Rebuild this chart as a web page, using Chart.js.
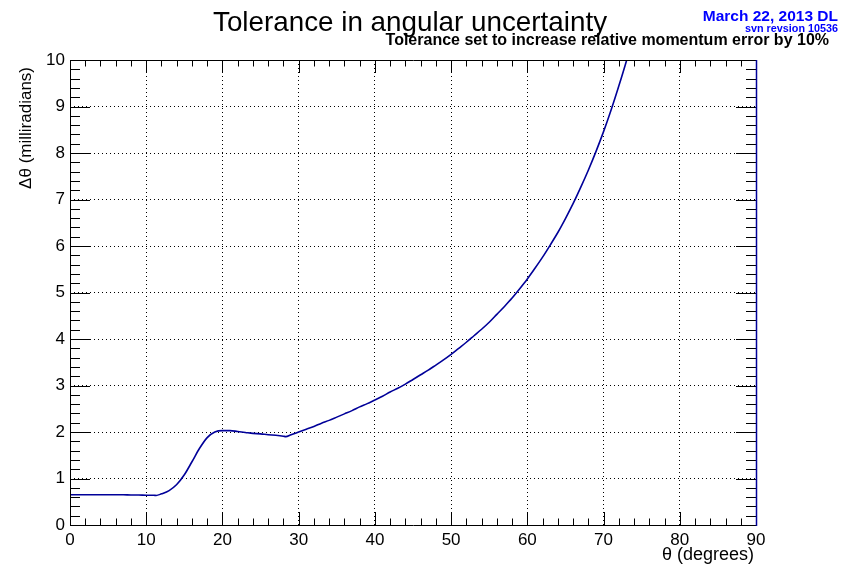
<!DOCTYPE html>
<html>
<head>
<meta charset="utf-8">
<script src="https://cdn.jsdelivr.net/npm/chart.js@4.4.4/dist/chart.umd.min.js"></script>
<style>
  html, body { margin: 0; padding: 0; background: #fff; }
  #wrap { width: 844px; height: 570px; }
</style>
</head>
<body>
<div id="wrap"><canvas id="chart" width="844" height="570"></canvas></div>
<script>
// theta (degrees) and tolerance in angular uncertainty (milliradians)
const thetaDeg = [
  0, 1, 2, 3, 4, 5, 6, 7, 8, 9, 10, 11, 11.3,
  12, 13, 14, 15, 16, 17, 18, 19, 20, 21, 22, 23, 24, 25, 26, 27, 28, 28.3,
  29, 30, 31, 32, 33, 34, 35, 36, 37, 38, 39, 40, 41, 42, 43, 44, 45, 46, 47, 48, 49,
  50, 51, 52, 53, 54, 55, 56, 57, 58, 59, 60, 61, 62, 63, 64, 65, 66, 67, 68, 69,
  70, 71, 72, 73, 74
];
const dTheta = [
  0.65, 0.65, 0.65, 0.65, 0.65, 0.65, 0.65, 0.65, 0.645, 0.645, 0.64, 0.64, 0.635,
  0.67, 0.74, 0.87, 1.08, 1.36, 1.65, 1.88, 2.0, 2.03, 2.03, 2.01, 1.99, 1.97, 1.96, 1.94, 1.93, 1.91, 1.9,
  1.94, 2.0, 2.06, 2.12, 2.19, 2.25, 2.32, 2.39, 2.46, 2.54, 2.61, 2.69, 2.77, 2.86, 2.94, 3.03, 3.13, 3.23, 3.33, 3.44, 3.55,
  3.67, 3.8, 3.93, 4.07, 4.21, 4.36, 4.53, 4.7, 4.88, 5.08, 5.29, 5.52, 5.76, 6.02, 6.29, 6.59, 6.91, 7.26, 7.63, 8.03,
  8.46, 8.93, 9.44, 9.98, 10.57
];
const xTicks = [0, 10, 20, 30, 40, 50, 60, 70, 80, 90];
const yTicks = [0, 1, 2, 3, 4, 5, 6, 7, 8, 9, 10];

const FONT = "'Liberation Sans', Arial, Helvetica, sans-serif";

// ROOT-like frame: inward ticks on all four sides, blue right edge, texts
const rootFrame = {
  id: "rootFrame",
  afterDraw(chart) {
    const { ctx, chartArea: a, scales: { x, y } } = chart;
    ctx.save();
    ctx.lineWidth = 1;
    ctx.strokeStyle = "#000";
    ctx.beginPath();
    for (let i = 0; i <= 45; i++) {
      const v = i * 2;
      const px = Math.round(x.getPixelForValue(v)) + 0.5;
      const len = v % 10 === 0 ? 13 : 6.5;
      ctx.moveTo(px, a.bottom);
      ctx.lineTo(px, a.bottom - len);
      ctx.moveTo(px, a.top);
      ctx.lineTo(px, a.top + len);
    }
    for (let i = 0; i <= 50; i++) {
      const py = Math.round(y.getPixelForValue(i / 5)) + 0.5;
      const len = i % 5 === 0 ? 20 : 10;
      ctx.moveTo(a.left, py);
      ctx.lineTo(a.left + len, py);
      ctx.moveTo(a.right, py);
      ctx.lineTo(a.right - len, py);
    }
    ctx.stroke();

    // frame
    ctx.beginPath();
    ctx.moveTo(a.right + 0.5, a.top + 0.5);
    ctx.lineTo(a.left + 0.5, a.top + 0.5);
    ctx.lineTo(a.left + 0.5, a.bottom + 0.5);
    ctx.lineTo(a.right + 0.5, a.bottom + 0.5);
    ctx.stroke();
    ctx.strokeStyle = "#000099";
    ctx.lineWidth = 1.5;
    ctx.beginPath();
    ctx.moveTo(a.right + 0.5, a.top);
    ctx.lineTo(a.right + 0.5, a.bottom + 1);
    ctx.stroke();

    // texts
    ctx.fillStyle = "#000";
    ctx.textBaseline = "alphabetic";
    ctx.textAlign = "left";
    ctx.font = "27.8px " + FONT;
    ctx.fillText("Tolerance in angular uncertainty", 213, 31);
    ctx.textAlign = "right";
    ctx.font = "bold 16px " + FONT;
    ctx.fillText("Tolerance set to increase relative momentum error by 10%", 829, 45);
    ctx.fillStyle = "#0000ff";
    ctx.font = "bold 15.5px " + FONT;
    ctx.fillText("March 22, 2013 DL", 838, 21);
    ctx.font = "bold 10.8px " + FONT;
    ctx.fillText("svn revsion 10536", 838, 31.5);

    ctx.fillStyle = "#000";
    ctx.font = "18px " + FONT;
    ctx.fillText("\u03b8 (degrees)", 754, 560);
    ctx.translate(31, 67);
    ctx.rotate(-Math.PI / 2);
    ctx.font = "17px " + FONT;
    ctx.fillText("\u0394\u03b8 (milliradians)", 0, 0);
    ctx.restore();
  }
};

const points = thetaDeg.map((t, i) => ({ x: t, y: dTheta[i] }));

const chart = new Chart(document.getElementById("chart"), {
  type: "line",
  data: {
    datasets: [
      {
        label: "tolerance",
        data: points,
        borderColor: "#000099",
        borderWidth: 1.6,
        pointRadius: 0,
        fill: false,
        cubicInterpolationMode: "monotone",
      },
    ],
  },
  options: {
    responsive: false,
    animation: false,
    devicePixelRatio: 1,
    layout: { padding: { top: 60, right: 88, left: 0, bottom: 0 } },
    plugins: {
      legend: { display: false },
      title: { display: false },
      tooltip: { enabled: false },
    },
    scales: {
      x: {
        type: "linear",
        min: 0,
        max: 90,
        afterFit: (s) => { s.height = 45; },
        afterBuildTicks: (s) => { s.ticks = xTicks.map((v) => ({ value: v })); },
        grid: { color: "#000", lineWidth: 1, drawTicks: false },
        border: { display: false, dash: [1, 3] },
        ticks: {
          padding: 5,
          color: "#000",
          font: { family: FONT, size: 17 },
          maxRotation: 0,
        },
      },
      y: {
        type: "linear",
        min: 0,
        max: 10,
        afterFit: (s) => { s.width = 70; },
        afterBuildTicks: (s) => { s.ticks = yTicks.map((v) => ({ value: v })); },
        grid: { color: "#000", lineWidth: 1, drawTicks: false },
        border: { display: false, dash: [1, 3] },
        ticks: {
          padding: 5,
          color: "#000",
          font: { family: FONT, size: 17 },
        },
      },
    },
  },
  plugins: [rootFrame],
});
</script>
</body>
</html>
